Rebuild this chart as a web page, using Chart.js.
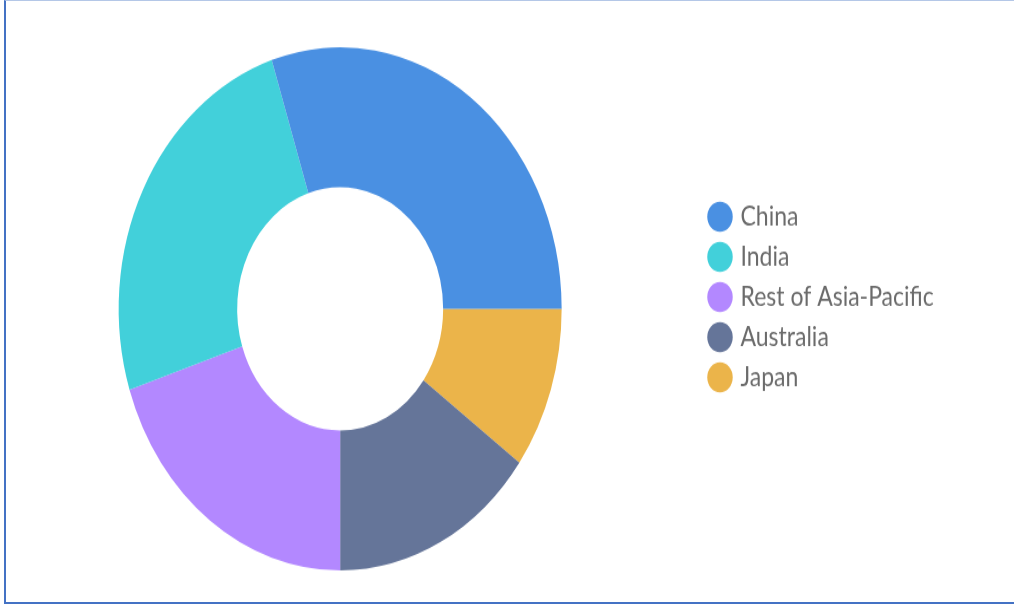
<!DOCTYPE html>
<html>
<head>
<meta charset="utf-8">
<script src="https://cdn.jsdelivr.net/npm/chart.js@4/dist/chart.umd.min.js"></script>
<style>
  html, body { margin: 0; padding: 0; background: #fff; }
  body { width: 1014px; height: 607px; position: relative; overflow: hidden; }
  #frame {
    position: absolute; left: 4px; top: 0; width: 1010px; height: 604px;
    border-left: 2px solid #4472c4; border-top: 1px solid #b4c7e7; border-bottom: 2px solid #4472c4;
    box-sizing: border-box;
  }
  #stretch {
    position: absolute; left: 0; top: 0; width: 1014px; height: 514px;
    transform: scaleY(1.181); transform-origin: 0 0;
  }
</style>
</head>
<body>
<div id="frame"></div>
<div id="stretch"><canvas id="asiaChart" width="1014" height="514"></canvas></div>
<script>
const categories = ['China', 'India', 'Rest of Asia-Pacific', 'Australia', 'Japan'];
const shares = [30, 25, 20, 15, 10];
const colors = ['#4a90e2', '#42d0da', '#b388ff', '#657599', '#ebb44a'];

// slices run counter-clockwise from 3 o'clock in the picture,
// so feed them reversed and start the sweep at 90 degrees
const labelsRev = categories.slice().reverse();
const sharesRev = shares.slice().reverse();
const colorsRev = colors.slice().reverse();

// nudge the legend block to where it sits in the picture
const legendShift = {
    id: 'legendShift',
    afterLayout(chart) {
        const lg = chart.legend;
        const dx = 700 - lg.left;
        const dy = -10;
        lg.left += dx; lg.right += dx;
        lg.top += dy; lg.bottom += dy;
    }
};

const ctx = document.getElementById('asiaChart').getContext('2d');
const asiaChart = new Chart(ctx, {
    type: 'doughnut',
    data: {
        labels: labelsRev,
        datasets: [{
            data: sharesRev,
            backgroundColor: colorsRev,
            borderWidth: 0
        }]
    },
    options: {
        responsive: false,
        animation: false,
        rotation: 90,
        cutout: '46.5%',
        layout: {
            padding: { left: 0, right: 90, top: 40, bottom: 31 }
        },
        plugins: {
            legend: {
                position: 'right',
                reverse: true,
                labels: {
                    usePointStyle: true,
                    pointStyle: 'circle',
                    boxWidth: 18,
                    boxHeight: 18,
                    padding: 11,
                    color: '#6b6b6b',
                    font: { family: 'Lato', size: 23 }
                }
            },
            tooltip: { enabled: false }
        }
    },
    plugins: [legendShift]
});
</script>
</body>
</html>
